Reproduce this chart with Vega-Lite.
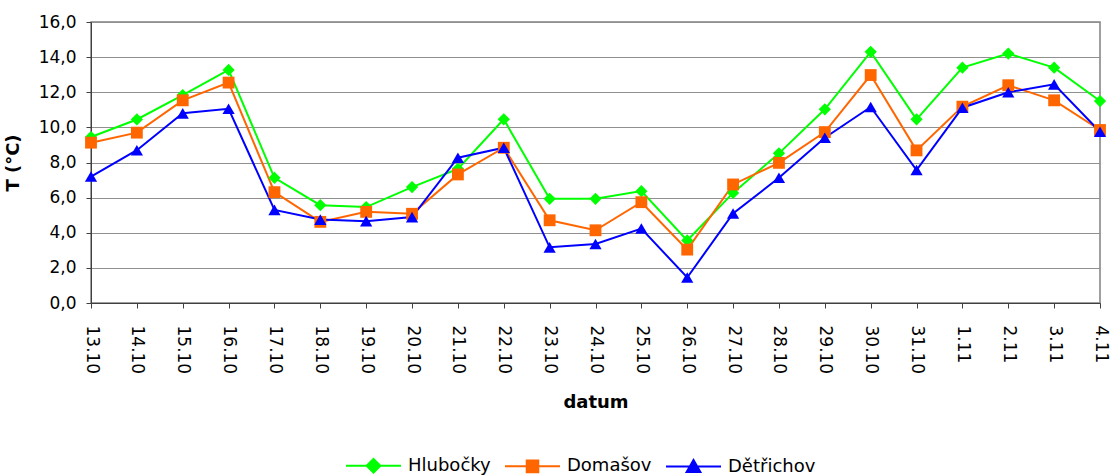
{
  "$schema": "https://vega.github.io/schema/vega-lite/v6.json",
  "width": 1009,
  "height": 281,
  "autosize": "none",
  "padding": {"left": 91, "top": 22, "right": 13, "bottom": 172},
  "background": "white",
  "config": {
    "view": {"stroke": "#808080", "strokeWidth": 1.5},
    "font": "DejaVu Sans",
    "axis": {"labelFont": "DejaVu Sans", "titleFont": "DejaVu Sans", "labelColor": "black", "titleColor": "black"}
  },
  "data": {"values": [
    {"d":"13.10","s":"Hlubočky","T":9.45},{"d":"14.10","s":"Hlubočky","T":10.45},{"d":"15.10","s":"Hlubočky","T":11.84},{"d":"16.10","s":"Hlubočky","T":13.27},{"d":"17.10","s":"Hlubočky","T":7.13},{"d":"18.10","s":"Hlubočky","T":5.57},{"d":"19.10","s":"Hlubočky","T":5.46},{"d":"20.10","s":"Hlubočky","T":6.6},{"d":"21.10","s":"Hlubočky","T":7.64},{"d":"22.10","s":"Hlubočky","T":10.46},{"d":"23.10","s":"Hlubočky","T":5.93},{"d":"24.10","s":"Hlubočky","T":5.93},{"d":"25.10","s":"Hlubočky","T":6.37},{"d":"26.10","s":"Hlubočky","T":3.56},{"d":"27.10","s":"Hlubočky","T":6.27},{"d":"28.10","s":"Hlubočky","T":8.52},{"d":"29.10","s":"Hlubočky","T":11.03},{"d":"30.10","s":"Hlubočky","T":14.3},{"d":"31.10","s":"Hlubočky","T":10.46},{"d":"1.11","s":"Hlubočky","T":13.4},{"d":"2.11","s":"Hlubočky","T":14.2},{"d":"3.11","s":"Hlubočky","T":13.4},{"d":"4.11","s":"Hlubočky","T":11.5},
    {"d":"13.10","s":"Domašov","T":9.13},{"d":"14.10","s":"Domašov","T":9.7},{"d":"15.10","s":"Domašov","T":11.54},{"d":"16.10","s":"Domašov","T":12.55},{"d":"17.10","s":"Domašov","T":6.31},{"d":"18.10","s":"Domašov","T":4.62},{"d":"19.10","s":"Domašov","T":5.19},{"d":"20.10","s":"Domašov","T":5.08},{"d":"21.10","s":"Domašov","T":7.32},{"d":"22.10","s":"Domašov","T":8.84},{"d":"23.10","s":"Domašov","T":4.71},{"d":"24.10","s":"Domašov","T":4.14},{"d":"25.10","s":"Domašov","T":5.74},{"d":"26.10","s":"Domašov","T":3.04},{"d":"27.10","s":"Domašov","T":6.75},{"d":"28.10","s":"Domašov","T":7.98},{"d":"29.10","s":"Domašov","T":9.73},{"d":"30.10","s":"Domašov","T":12.98},{"d":"31.10","s":"Domašov","T":8.69},{"d":"1.11","s":"Domašov","T":11.18},{"d":"2.11","s":"Domašov","T":12.4},{"d":"3.11","s":"Domašov","T":11.54},{"d":"4.11","s":"Domašov","T":9.85},
    {"d":"13.10","s":"Dětřichov","T":7.2},{"d":"14.10","s":"Dětřichov","T":8.7},{"d":"15.10","s":"Dětřichov","T":10.8},{"d":"16.10","s":"Dětřichov","T":11.06},{"d":"17.10","s":"Dětřichov","T":5.3},{"d":"18.10","s":"Dětřichov","T":4.75},{"d":"19.10","s":"Dětřichov","T":4.66},{"d":"20.10","s":"Dětřichov","T":4.89},{"d":"21.10","s":"Dětřichov","T":8.27},{"d":"22.10","s":"Dětřichov","T":8.84},{"d":"23.10","s":"Dětřichov","T":3.17},{"d":"24.10","s":"Dětřichov","T":3.36},{"d":"25.10","s":"Dětřichov","T":4.24},{"d":"26.10","s":"Dětřichov","T":1.45},{"d":"27.10","s":"Dětřichov","T":5.1},{"d":"28.10","s":"Dětřichov","T":7.13},{"d":"29.10","s":"Dětřichov","T":9.41},{"d":"30.10","s":"Dětřichov","T":11.16},{"d":"31.10","s":"Dětřichov","T":7.57},{"d":"1.11","s":"Dětřichov","T":11.12},{"d":"2.11","s":"Dětřichov","T":12.0},{"d":"3.11","s":"Dětřichov","T":12.45},{"d":"4.11","s":"Dětřichov","T":9.75}
  ]},
  "encoding": {
    "x": {
      "field": "d", "type": "ordinal", "sort": null,
      "scale": {"type": "point", "padding": 0},
      "axis": {
        "title": "datum", "labelAngle": 90, "labelFontSize": 17, "labelPadding": 17,
        "titleFontSize": 18, "titleFontWeight": "bold", "titlePadding": 20,
        "domainColor": "#404040", "tickColor": "#404040", "tickSize": 5, "grid": false
      }
    },
    "y": {
      "field": "T", "type": "quantitative",
      "scale": {"domain": [0, 16], "nice": false, "zero": true},
      "axis": {
        "title": "T (°C)", "values": [0, 2, 4, 6, 8, 10, 12, 14, 16],
        "labelExpr": "replace(format(datum.value, '.1f'), '.', ',')",
        "labelFontSize": 17, "labelPadding": 10,
        "titleFontSize": 18, "titleFontWeight": "bold", "titlePadding": 16,
        "domainColor": "#404040", "tickColor": "#404040", "tickSize": 5,
        "grid": true, "gridColor": "#909090", "gridWidth": 1.2
      }
    },
    "color": {
      "field": "s", "type": "nominal",
      "scale": {"domain": ["Hlubočky", "Domašov", "Dětřichov"], "range": ["#00FF00", "#FF6600", "#0000FF"]},
      "legend": {
        "title": null, "orient": "none", "direction": "horizontal", "columns": 3,
        "legendX": 254, "legendY": 415,
        "symbolSize": 3025, "labelFontSize": 18, "labelFont": "DejaVu Sans", "labelColor": "black",
        "labelOffset": 6, "columnPadding": 10,
        "encode": {
          "symbols": {
            "update": {
              "shape": {"signal": "datum.value === 'Hlubočky' ? 'M-1,0H1M0,-0.25L0.25,0L0,0.25L-0.25,0Z' : datum.value === 'Domašov' ? 'M-1,0H1M-0.21,-0.21H0.21V0.21H-0.21Z' : 'M-1,0H1M0,-0.24L0.25,0.2L-0.25,0.2Z'"},
              "fill": {"signal": "datum.value === 'Hlubočky' ? '#00FF00' : datum.value === 'Domašov' ? '#FF6600' : '#0000FF'"},
              "stroke": {"signal": "datum.value === 'Hlubočky' ? '#00FF00' : datum.value === 'Domašov' ? '#FF6600' : '#0000FF'"},
              "strokeWidth": {"value": 2},
              "fillOpacity": {"value": 1},
              "opacity": {"value": 1}
            }
          }
        }
      }
    }
  },
  "layer": [
    {"mark": {"type": "line", "strokeWidth": 2}},
    {
      "transform": [{"filter": "datum.s === 'Hlubočky'"}],
      "mark": {"type": "point", "filled": true, "size": 150, "opacity": 1, "shape": "diamond"}
    },
    {
      "transform": [{"filter": "datum.s === 'Domašov'"}],
      "mark": {"type": "point", "filled": true, "size": 140, "opacity": 1, "shape": "square"}
    },
    {
      "transform": [{"filter": "datum.s === 'Dětřichov'"}],
      "mark": {"type": "point", "filled": true, "size": 150, "opacity": 1, "shape": "triangle-up"}
    }
  ]
}
